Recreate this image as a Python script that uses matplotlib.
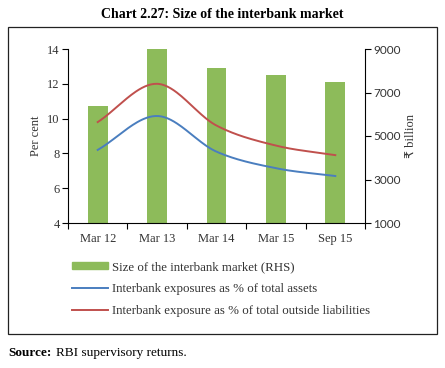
import numpy as np
import matplotlib
matplotlib.use('Agg')
import matplotlib.pyplot as plt
from matplotlib.patches import Patch, Rectangle
from matplotlib.lines import Line2D

# Data
periods = ['Mar 12', 'Mar 13', 'Mar 14', 'Mar 15', 'Sep 15']
market_size = [6380, 9000, 8140, 7820, 7500]          # RHS, Rs billion
pct_total_assets = [8.2, 10.15, 8.1, 7.15, 6.7]       # LHS, per cent
pct_outside_liab = [9.8, 12.0, 9.6, 8.45, 7.9]        # LHS, per cent

GREEN = '#8DBB5A'
BLUE = '#4A7EBF'
RED = '#C0504D'
SERIF = ['Liberation Serif', 'DejaVu Serif']


def smooth(y, n=40):
    # Catmull-Rom style smoothing like the spreadsheet's smoothed lines
    y = np.asarray(y, dtype=float)
    x = np.arange(len(y), dtype=float)
    px = np.concatenate([[2 * x[0] - x[1]], x, [2 * x[-1] - x[-2]]])
    py = np.concatenate([[2 * y[0] - y[1]], y, [2 * y[-1] - y[-2]]])
    xs, ys = [], []
    for i in range(1, len(px) - 2):
        p0, p1, p2, p3 = (np.array([px[j], py[j]]) for j in range(i - 1, i + 3))
        c1 = p1 + (p2 - p0) / 6
        c2 = p2 - (p3 - p1) / 6
        t = np.linspace(0, 1, n)[:, None]
        pts = ((1 - t) ** 3 * p1 + 3 * (1 - t) ** 2 * t * c1
               + 3 * (1 - t) * t ** 2 * c2 + t ** 3 * p2)
        xs.append(pts[:, 0])
        ys.append(pts[:, 1])
    return np.concatenate(xs), np.concatenate(ys)


W, H = 445, 368
fig = plt.figure(figsize=(W / 100, H / 100), dpi=100)

# outer frame
fig.patches.append(Rectangle((8 / W, 1 - 334 / H), 429 / W, 307 / H,
                             transform=fig.transFigure, fill=False,
                             edgecolor='#222222', linewidth=0.9))

fig.text(0.5, 1 - 14 / H, 'Chart 2.27: Size of the interbank market',
         ha='center', va='center', fontsize=10, fontweight='bold',
         family=SERIF)

ax = fig.add_axes([68 / W, 1 - 223 / H, (365 - 68) / W, (223 - 49) / H])
ax2 = ax.twinx()

x = np.arange(len(periods))
ax2.bar(x, market_size, width=0.33, color=GREEN, bottom=0)
ax2.set_ylim(1000, 9000)
ax2.set_yticks([1000, 3000, 5000, 7000, 9000])

for vals, col in [(pct_total_assets, BLUE), (pct_outside_liab, RED)]:
    sx, sy = smooth(vals)
    ax.plot(sx, sy, color=col, linewidth=1.4)

ax.set_zorder(ax2.get_zorder() + 1)
ax.patch.set_visible(False)

ax.set_ylim(4, 14)
ax.set_yticks([4, 6, 8, 10, 12, 14])
ax.set_xlim(-0.5, 4.5)
ax.set_xticks(x)
ax.set_xticklabels(periods)
ax.set_xticks(np.arange(-0.5, 5, 1), minor=True)
ax.tick_params(axis='x', which='major', length=0, pad=7)
ax.tick_params(axis='x', which='minor', length=4, direction='out', width=0.8)
ax.tick_params(axis='y', length=4, direction='out', width=0.8, pad=2)
ax2.tick_params(axis='y', length=4, direction='out', width=0.8, pad=2)

for a in (ax, ax2):
    a.spines['top'].set_visible(False)
    for s in a.spines.values():
        s.set_linewidth(0.8)
ax.spines['right'].set_visible(False)
ax2.spines['left'].set_visible(False)
ax2.spines['bottom'].set_visible(False)

for lab in ax.get_xticklabels() + ax.get_yticklabels():
    lab.set_family(SERIF)
    lab.set_fontsize(9)
    lab.set_color('#333333')
for lab in ax2.get_yticklabels():
    lab.set_family(['Lato', 'DejaVu Sans'])
    lab.set_fontsize(8.5)
    lab.set_color('#333333')

ax.set_ylabel('Per cent', family=SERIF, fontsize=9, color='#333333',
              labelpad=4)
ax2.set_ylabel('\u20b9 billion', family=['Liberation Serif', 'DejaVu Sans'],
               fontsize=9, color='#333333', rotation=90, labelpad=3)

handles = [Patch(color=GREEN), Line2D([], [], color=BLUE, linewidth=1.4),
           Line2D([], [], color=RED, linewidth=1.4)]
labels = ['Size of the interbank market (RHS)',
          'Interbank exposures as % of total assets',
          'Interbank exposure as % of total outside liabilities']
fig.legend(handles, labels, loc='upper left',
           bbox_to_anchor=(72 / W, 1 - 261 / H), frameon=False,
           borderpad=0, borderaxespad=0, handlelength=2.8,
           handleheight=0.5, handletextpad=0.3, labelspacing=0.78,
           prop={'family': SERIF, 'size': 9.3}, labelcolor='#333333')

src = fig.text(8 / W, 1 - 353 / H, 'Source:', fontsize=9.5,
               fontweight='bold', family=SERIF, va='center')
fig.canvas.draw()
bb = src.get_window_extent()
fig.text((bb.x1 + 5) / W, 1 - 353 / H, 'RBI supervisory returns.',
         fontsize=9.5, family=SERIF, va='center')

fig.savefig('out.png', dpi=100)
